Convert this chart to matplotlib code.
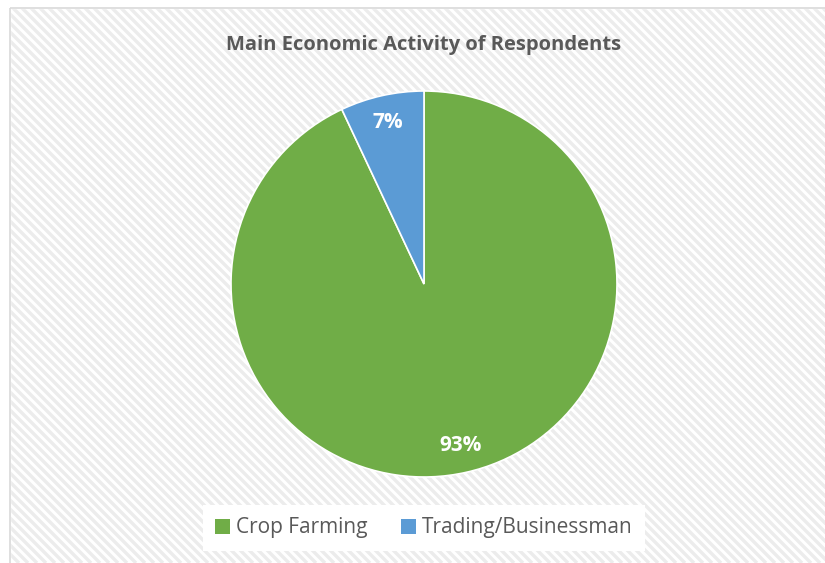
import numpy as np
import matplotlib.pyplot as plt
from matplotlib.patches import Rectangle, Patch

# Data
categories = ["Crop Farming", "Trading/Businessman"]
shares = [93, 7]
colors = ["#70ad47", "#5b9bd5"]
title = "Main Economic Activity of Respondents"

W, H = 825, 563
fig = plt.figure(figsize=(W / 100, H / 100), dpi=100)
fig.patch.set_facecolor("white")

# background with diagonal stripes, in pixel coords
bg = fig.add_axes([0, 0, 1, 1])
bg.set_xlim(0, W)
bg.set_ylim(H, 0)
bg.axis("off")
left, top = 10, 8
for c in np.arange(left - H, W, 9):
    bg.plot([c, c + H], [0, H], color="#ececec", lw=2.4, solid_capstyle="butt", zorder=1)
# mask outside the chart border
bg.add_patch(Rectangle((0, 0), left, H, color="white", zorder=2))
bg.add_patch(Rectangle((0, 0), W, top, color="white", zorder=2))
bg.add_patch(Rectangle((left, top), W, H, fill=False, ec="#d9d9d9", lw=1.2, zorder=3))

# pie
cx, cy, r = 424, 284, 193
ax = fig.add_axes([(cx - r) / W, (H - cy - r) / H, 2 * r / W, 2 * r / H])
wedges, texts, autotexts = ax.pie(
    shares, colors=colors, startangle=90, counterclock=False,
    autopct="%d%%", pctdistance=0.86,
    wedgeprops=dict(edgecolor="white", linewidth=1.2),
    textprops=dict(color="white", fontsize=15, fontweight="bold", family="Open Sans"),
)
ax.set_xlim(-1, 1)
ax.set_ylim(-1, 1)
ax.set_aspect("equal")

fig.text(cx / W, 1 - 45 / H, title, ha="center", va="center",
         fontsize=14.5, fontweight="bold", color="#595959", family="Open Sans")

handles = [Patch(facecolor=c, edgecolor="none") for c in colors]
leg = fig.legend(handles, categories, loc="center", bbox_to_anchor=(cx / W, 1 - 528 / H),
                 ncol=2, frameon=True, handlelength=0.7, handleheight=0.7,
                 handletextpad=0.3, columnspacing=1.6, borderpad=0.6, fancybox=False,
                 prop=dict(family="Open Sans", size=15))
leg.get_frame().set_facecolor("white")
leg.get_frame().set_edgecolor("none")
leg.get_frame().set_alpha(1)
for t in leg.get_texts():
    t.set_color("#595959")

fig.savefig("out.png", dpi=100)
